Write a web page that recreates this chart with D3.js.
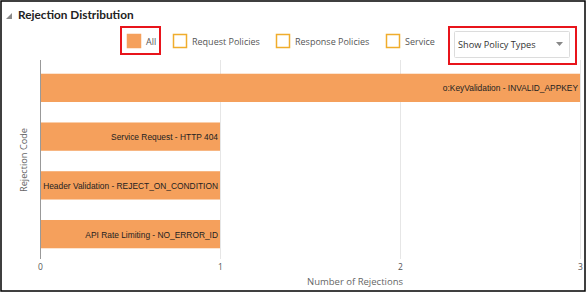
<!DOCTYPE html>
<html>
<head>
<meta charset="utf-8">
<script src="https://cdn.jsdelivr.net/npm/d3@7"></script>
<style>
  html, body { margin: 0; padding: 0; background: #fff; }
  svg { display: block; }
</style>
</head>
<body>
<svg id="chart" width="587" height="293"></svg>
<script>
// data
var codes = ["o:KeyValidation - INVALID_APPKEY", "Service Request - HTTP 404",
             "Header Validation - REJECT_ON_CONDITION", "API Rate Limiting - NO_ERROR_ID"];
var counts = [3, 1, 1, 1];
var xTicks = [0, 1, 2, 3];
var legendNames = ["All", "Request Policies", "Response Policies", "Service"];
var dropdownLabel = "Show Policy Types";

var W = 587, H = 293;
var plot = {left: 40, right: 580, top: 63, bottom: 259};
var barColor = "#f5a05c";

var svg = d3.select("#chart");

// frame
svg.append("rect").attr("x", 1).attr("y", 1).attr("width", W - 3).attr("height", H - 3)
  .attr("fill", "#fff").attr("stroke", "#000").attr("stroke-width", 1.5);

// header
svg.append("path").attr("d", "M6,19 L12,13 L12,19 Z").attr("fill", "#8a8a8a");
svg.append("text").attr("x", 18).attr("y", 19)
  .attr("font-family", "Lato, sans-serif").attr("font-weight", "bold")
  .attr("font-size", 11.8).attr("fill", "#222").text("Rejection Distribution");

// legend
var legendX = [127, 173, 276, 386];
var lg = svg.append("g").selectAll("g").data(legendNames).enter().append("g")
  .attr("transform", function(d, i) { return "translate(" + legendX[i] + ",34)"; });
lg.append("rect").attr("x", 0.5).attr("y", 0.5).attr("width", 13).attr("height", 13)
  .attr("fill", function(d, i) { return i == 0 ? barColor : "#fff"; })
  .attr("stroke", function(d, i) { return i == 0 ? barColor : "#f0ad2c"; })
  .attr("stroke-width", 1.5);
lg.append("text").attr("x", function(d, i) { return i == 0 ? 19 : 19; }).attr("y", 11)
  .attr("font-family", "'Open Sans', sans-serif").attr("font-size", 9)
  .attr("fill", "#555").text(function(d) { return d; });

// red highlight boxes
svg.append("rect").attr("x", 121).attr("y", 27).attr("width", 39).attr("height", 27)
  .attr("fill", "none").attr("stroke", "#e8141b").attr("stroke-width", 2);
svg.append("rect").attr("x", 449).attr("y", 27).attr("width", 127).attr("height", 37)
  .attr("fill", "none").attr("stroke", "#e8141b").attr("stroke-width", 2);

// dropdown
svg.append("rect").attr("x", 454.5).attr("y", 31.5).attr("width", 115).attr("height", 26)
  .attr("fill", "#fff").attr("stroke", "#dcdcdc").attr("rx", 1);
svg.append("text").attr("x", 458).attr("y", 48)
  .attr("font-family", "'Open Sans', sans-serif").attr("font-size", 9.2)
  .attr("fill", "#333").text(dropdownLabel);
svg.append("path").attr("d", "M556,42 L563,42 L559.5,46 Z").attr("fill", "#888");

// scales
var x = d3.scaleLinear().domain([0, 3]).range([plot.left, plot.right]);
var y = d3.scaleBand().domain(codes).range([plot.top, plot.bottom]).paddingInner(0.42).paddingOuter(0.22);

// gridlines
svg.append("g").selectAll("line").data(xTicks.slice(1)).enter().append("line")
  .attr("x1", function(d) { return x(d) + 0.5; }).attr("x2", function(d) { return x(d) + 0.5; })
  .attr("y1", 60).attr("y2", plot.bottom)
  .attr("stroke", "#e6e6e6").attr("stroke-width", 1);

// bars
var rows = codes.map(function(c, i) { return {code: c, value: counts[i]}; });
svg.append("g").selectAll("rect").data(rows).enter().append("rect")
  .attr("x", x(0)).attr("y", function(d) { return y(d.code); })
  .attr("width", function(d) { return x(d.value) - x(0); })
  .attr("height", y.bandwidth())
  .attr("fill", barColor);

svg.append("g").selectAll("text").data(rows).enter().append("text")
  .attr("x", function(d) { return x(d.value) - 2; })
  .attr("y", function(d) { return y(d.code) + y.bandwidth() / 2 + 3.5; })
  .attr("text-anchor", "end")
  .attr("font-family", "'Liberation Sans', Arial, sans-serif").attr("font-size", 8.4)
  .attr("fill", "#222").text(function(d) { return d.code; });

// y axis line
svg.append("line").attr("x1", plot.left + 0.5).attr("x2", plot.left + 0.5)
  .attr("y1", plot.top - 3).attr("y2", plot.bottom).attr("stroke", "#999").attr("stroke-width", 1);

// x axis labels
var xAxis = d3.axisBottom(x).tickValues(xTicks).tickSize(0).tickPadding(0).tickFormat(d3.format("d"));
var xa = svg.append("g").attr("transform", "translate(0," + (plot.bottom + 3) + ")").call(xAxis);
xa.select(".domain").remove();
xa.selectAll("text").attr("font-family", "'Open Sans', sans-serif").attr("font-size", 8.5)
  .attr("fill", "#555").attr("dy", "0.95em");

// axis titles
svg.append("text").attr("x", 355).attr("y", 285).attr("text-anchor", "middle")
  .attr("font-family", "'Open Sans', sans-serif").attr("font-size", 9.5)
  .attr("fill", "#666").text("Number of Rejections");
svg.append("text").attr("transform", "translate(27,160) rotate(-90)").attr("text-anchor", "middle")
  .attr("font-family", "'Open Sans', sans-serif").attr("font-size", 9.2)
  .attr("fill", "#666").text("Rejection Code");
</script>
</body>
</html>
